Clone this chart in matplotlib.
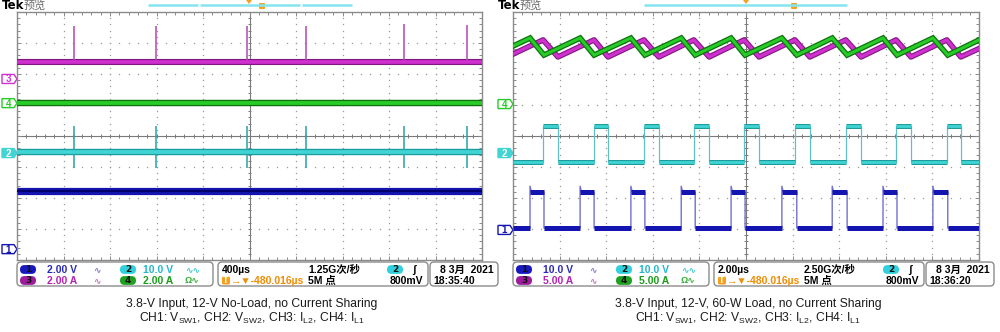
import numpy as np
import matplotlib
matplotlib.use("Agg")
import matplotlib.pyplot as plt
from matplotlib.patches import FancyBboxPatch, Polygon
from matplotlib.ticker import MultipleLocator

# ---------------- data (levels in screen divisions, times in us from left edge) ----------------
# Left capture: 400 us/div, 12-V no-load
L_TPD = 400.0
L_CH3_LEVEL = 6.39
L_CH4_LEVEL = 5.06
L_CH2_LEVEL = 3.48
L_CH1_LEVEL = 2.24
L_SPIKE_T = [490, 1196, 1978, 2486, 3329, 3871]
L_CH3_SPIKE_TOP = [7.55, 7.55, 7.55, 7.55, 7.61, 7.57]
L_CH2_SPIKE_TOP = [4.32, 4.32, 4.32, 4.32, 4.32, 4.32]
L_CH2_SPIKE_BOT = [2.97, 2.97, 2.97, 2.97, 2.97, 2.97]
L_MARKERS = {"3": 5.84, "4": 5.06, "2": 3.45, "1": 0.35}

# Right capture: 2 us/div, 60-W load
R_TPD = 2.0
R_CH1_RISE = [0.73, 2.88, 5.06, 7.22, 9.36, 11.54, 13.70, 15.88, 18.02]
R_CH1_FALL = [1.33, 3.48, 5.66, 7.82, 9.96, 12.18, 14.34, 16.48, 18.66]
R_CH2_RISE = [1.29, 3.48, 5.62, 7.76, 9.92, 12.10, 14.28, 16.44, 18.62]
R_CH2_FALL = [1.93, 4.08, 6.26, 8.42, 10.56, 12.74, 14.94, 17.08, 19.22]
R_CH1_LOW, R_CH1_HIGH, R_CH1_OVERSHOOT = 1.03, 2.19, 2.38
R_CH2_LOW, R_CH2_HIGH = 3.16, 4.32
R_CH4_PEAK, R_CH4_TROUGH = 7.16, 6.61
R_CH3_PEAK, R_CH3_TROUGH = 7.10, 6.55
R_MARKERS = {"4": 5.03, "2": 3.45, "1": 0.97}

# status-bar texts
L_STATUS = dict(ch1="2.00 V", ch3="2.00 A", ch2="10.0 V", ch4="2.00 A", tdiv="400µs",
                rate="1.25G次/秒", delay="-480.016µs", rec="5M 点", trig="800mV",
                date="8 3月  2021", time="18:35:40")
R_STATUS = dict(ch1="10.0 V", ch3="5.00 A", ch2="10.0 V", ch4="5.00 A", tdiv="2.00µs",
                rate="2.50G次/秒", delay="-480.016µs", rec="5M 点", trig="800mV",
                date="8 3月  2021", time="18:36:20")
L_TITLE = "3.8-V Input, 12-V No-Load, no Current Sharing"
R_TITLE = "3.8-V Input, 12-V, 60-W Load, no Current Sharing"
SUBTITLE = r"CH1: V$_{\mathrm{SW1}}$, CH2: V$_{\mathrm{SW2}}$, CH3: I$_{\mathrm{L2}}$, CH4: I$_{\mathrm{L1}}$"

# ---------------- style ----------------
plt.rcParams["mathtext.fontset"] = "custom"
plt.rcParams["mathtext.rm"] = "Liberation Sans"
plt.rcParams["mathtext.it"] = "Liberation Sans:italic"
plt.rcParams["font.family"] = ["Liberation Sans", "Noto Sans CJK SC", "DejaVu Sans"]
FAM = ["Liberation Sans", "Noto Sans CJK SC", "DejaVu Sans"]

C_BLUE, C_BLUE_D = "#1414b0", "#00006a"
C_CYAN, C_CYAN_D = "#40d4d4", "#1c9c9c"
C_MAG, C_MAG_D = "#d030d0", "#801880"
C_GRN, C_GRN_D = "#28cc28", "#0e700e"
C_ORANGE = "#f5a020"
TXT = {"1": "#2a2ab8", "2": "#22b8c8", "3": "#b424b4", "4": "#1c9c1c"}
BADGE = {"1": "#1818c0", "2": "#30d0dc", "3": "#9c1c9c", "4": "#20a020"}

fig = plt.figure(figsize=(10, 3.32), dpi=100)
bg = fig.add_axes([0, 0, 1, 1])
bg.set_xlim(0, 1000)
bg.set_ylim(332, 0)
bg.axis("off")

TOP, BOT = 12, 260


def px_y(d):
    return BOT - (BOT - TOP) / 8.0 * d


def graticule(ax, tpd):
    ax.set_xlim(0, 10 * tpd)
    ax.set_ylim(0, 8)
    ax.xaxis.set_major_locator(MultipleLocator(tpd))
    ax.xaxis.set_minor_locator(MultipleLocator(tpd / 5))
    ax.yaxis.set_major_locator(MultipleLocator(1))
    ax.yaxis.set_minor_locator(MultipleLocator(0.2))
    ax.tick_params(which="both", direction="in", top=True, right=True, bottom=True, left=True,
                   labelbottom=False, labelleft=False, color="#8a8a8a", width=0.7)
    ax.tick_params(which="major", length=3)
    ax.tick_params(which="minor", length=2)
    for sp in ax.spines.values():
        sp.set_color("#8a8a8a")
        sp.set_linewidth(1.0)
    ys = np.arange(0.2, 8, 0.2)
    xs = np.arange(tpd / 5, 10 * tpd, tpd / 5)
    for k in range(1, 10):
        if k != 5:
            ax.plot(np.full_like(ys, k * tpd), ys, ls="none", marker="s", ms=0.9, mew=0,
                    color="#9a9a9a", zorder=1)
    for k in range(1, 8):
        if k != 4:
            ax.plot(xs, np.full_like(xs, k), ls="none", marker="s", ms=0.9, mew=0,
                    color="#9a9a9a", zorder=1)
    ax.axhline(4, color="#7a7a7a", lw=0.8, zorder=1)
    ax.axvline(5 * tpd, color="#7a7a7a", lw=0.8, zorder=1)
    ax.vlines(xs, 4 - 0.06, 4 + 0.06, color="#7a7a7a", lw=0.7, zorder=1)
    ax.hlines(ys, 5 * tpd - 0.04 * tpd, 5 * tpd + 0.04 * tpd, color="#7a7a7a", lw=0.7, zorder=1)


def band(ax, x, y, col, dark, lw):
    ax.plot(x, y, color=dark, lw=lw, solid_capstyle="butt", zorder=3)
    ax.plot(x, y, color=col, lw=lw * 0.6, solid_capstyle="butt", zorder=3.1)


# ---------------- left panel ----------------
axL = fig.add_axes([17 / 1000, (332 - BOT) / 332, 465 / 1000, (BOT - TOP) / 332])
graticule(axL, L_TPD)
full = [0, 10 * L_TPD]
band(axL, full, [L_CH3_LEVEL] * 2, C_MAG, C_MAG_D, 4.4)
band(axL, full, [L_CH4_LEVEL] * 2, C_GRN, C_GRN_D, 4.6)
band(axL, full, [L_CH2_LEVEL] * 2, C_CYAN, C_CYAN_D, 4.6)
axL.plot(full, [L_CH1_LEVEL] * 2, color=C_BLUE, lw=5.2, solid_capstyle="butt", zorder=3)
axL.plot(full, [L_CH1_LEVEL] * 2, color=C_BLUE_D, lw=1.5, solid_capstyle="butt", zorder=3.1)
axL.vlines(L_SPIKE_T, L_CH3_LEVEL, L_CH3_SPIKE_TOP, color="#b048b0", lw=1.1, zorder=3)
axL.vlines(L_SPIKE_T, L_CH2_SPIKE_BOT, L_CH2_SPIKE_TOP, color="#2aa0a6", lw=1.1, zorder=3)

# ---------------- right panel ----------------
axR = fig.add_axes([513 / 1000, (332 - BOT) / 332, 466 / 1000, (BOT - TOP) / 332])
graticule(axR, R_TPD)


def square(rise, fall, lo, hi, over=None):
    xs, ys = [0.0], [lo]
    for r, f in zip(rise, fall):
        xs += [r, r]
        ys += [lo, over if over is not None else hi]
        if over is not None:
            xs += [r + 0.06]
            ys += [hi]
        xs += [f, f]
        ys += [hi, lo]
    xs.append(10 * R_TPD)
    ys.append(lo)
    return xs, ys


def triangle(peaks, troughs, pk, tr):
    period = peaks[1] - peaks[0]
    xs = [troughs[0] - period]
    ys = [tr]
    for p, t in zip(peaks, troughs):
        xs += [p, t]
        ys += [pk, tr]
    xs.append(peaks[-1] + period)
    ys.append(pk)
    return xs, ys


# ch2 square (cyan)
x2, y2 = square(R_CH2_RISE, R_CH2_FALL, R_CH2_LOW, R_CH2_HIGH)
axR.plot(x2, y2, color="#60c0c8", lw=0.9, zorder=3)
axR.hlines([R_CH2_HIGH] * len(R_CH2_RISE), R_CH2_RISE, R_CH2_FALL, color=C_CYAN_D, lw=3.6, zorder=3.1)
axR.hlines([R_CH2_HIGH] * len(R_CH2_RISE), R_CH2_RISE, R_CH2_FALL, color=C_CYAN, lw=2.0, zorder=3.2)
lo2_start = [0.0] + list(R_CH2_FALL)
lo2_end = list(R_CH2_RISE) + [10 * R_TPD]
axR.hlines([R_CH2_LOW] * len(lo2_start), lo2_start, lo2_end, color=C_CYAN_D, lw=3.6, zorder=3.1)
axR.hlines([R_CH2_LOW] * len(lo2_start), lo2_start, lo2_end, color=C_CYAN, lw=2.0, zorder=3.2)

# ch1 square (blue)
x1, y1 = square(R_CH1_RISE, R_CH1_FALL, R_CH1_LOW, R_CH1_HIGH, R_CH1_OVERSHOOT)
axR.plot(x1, y1, color="#7070d0", lw=1.0, zorder=3)
axR.hlines([R_CH1_HIGH] * len(R_CH1_RISE), R_CH1_RISE, R_CH1_FALL, color=C_BLUE, lw=3.6, zorder=3.1)
lo1_start = [0.0] + list(R_CH1_FALL)
lo1_end = list(R_CH1_RISE) + [10 * R_TPD]
axR.hlines([R_CH1_LOW] * len(lo1_start), lo1_start, lo1_end, color=C_BLUE, lw=3.6, zorder=3.1)

# inductor currents (magenta ch3, green ch4)
x3, y3 = triangle(R_CH2_RISE, R_CH2_FALL, R_CH3_PEAK, R_CH3_TROUGH)
band(axR, x3, y3, C_MAG, C_MAG_D, 4.0)
x4, y4 = triangle(R_CH1_RISE, R_CH1_FALL, R_CH4_PEAK, R_CH4_TROUGH)
axR.plot(x4, y4, color=C_GRN_D, lw=4.0, zorder=3.3, solid_joinstyle="miter")
axR.plot(x4, y4, color=C_GRN, lw=2.2, zorder=3.4, solid_joinstyle="miter")

# ---------------- decorations in pixel space ----------------
MARK_STYLE = {"1": ("white", C_BLUE, C_BLUE), "2": (C_CYAN, C_CYAN, "white"),
              "3": ("white", C_MAG, C_MAG), "4": ("white", C_GRN, C_GRN)}


def ch_marker(x0, d, ch):
    y = px_y(d)
    fc, ec, tc = MARK_STYLE[ch]
    poly = Polygon([(x0, y - 4.5), (x0 + 12, y - 4.5), (x0 + 15, y), (x0 + 12, y + 4.5), (x0, y + 4.5)],
                   closed=True, fc=fc, ec=ec, lw=1.0, zorder=5)
    bg.add_patch(poly)
    bg.text(x0 + 6.5, y + 0.5, ch, ha="center", va="center", fontsize=7, color=tc,
            fontweight="bold", family=FAM, zorder=6)


for ch, d in L_MARKERS.items():
    ch_marker(2, d, ch)
for ch, d in R_MARKERS.items():
    ch_marker(498, d, ch)

# header
for dx in (0, 496):
    bg.text(2 + dx, 5.5, "Tek", fontsize=8.5, fontweight="bold", color="black", va="center",
            family=["DejaVu Sans"])
    bg.text(24 + dx, 5.5, "预览", fontsize=8, color="#6a6a6a", va="center",
            family=["Noto Sans CJK SC"])
for a, b in [(148, 198), (200, 300), (302, 352), (644, 847)]:
    bg.plot([a, b], [5, 5], color="#86e4ee", lw=1.8, solid_capstyle="butt")
for x in (249, 746):
    bg.add_patch(Polygon([(x - 3, 0), (x + 3, 0), (x, 4)], fc=C_ORANGE, ec="none"))
    bg.add_patch(Polygon([(x - 3, 12), (x + 3, 12), (x, 16)], fc=C_ORANGE, ec="none", zorder=6))
for x in (262, 794):
    bg.add_patch(FancyBboxPatch((x - 3, 3), 6, 6, boxstyle="round,pad=0,rounding_size=1",
                                fc=C_ORANGE, ec="none"))

# trigger T markers inside graticules
bg.add_patch(FancyBboxPatch((300, 15), 12, 10, boxstyle="round,pad=0,rounding_size=2.5",
                            fc=C_ORANGE, ec="none", zorder=6))
bg.add_patch(Polygon([(303, 24.5), (309, 24.5), (306, 28)], fc=C_ORANGE, ec="none", zorder=6))
bg.text(306, 20.5, "T", ha="center", va="center", fontsize=6.5, color="white", fontweight="bold",
        family=["DejaVu Sans"], zorder=7)
bg.add_patch(FancyBboxPatch((965, 15), 11, 10, boxstyle="round,pad=0,rounding_size=2.5",
                            fc=C_ORANGE, ec="none", zorder=6))
bg.add_patch(Polygon([(975.5, 16.5), (980, 20), (975.5, 23.5)], fc=C_ORANGE, ec="none", zorder=6))
bg.text(970.5, 20.5, "T", ha="center", va="center", fontsize=6.5, color="white", fontweight="bold",
        family=["DejaVu Sans"], zorder=7)
# ch2 trigger level arrow (right panel)
bg.add_patch(Polygon([(977, 149), (977, 155), (973, 152)], fc=C_CYAN, ec="none", zorder=6))


def rbox(x0, x1, y0, y1):
    bg.add_patch(FancyBboxPatch((x0, y0), x1 - x0, y1 - y0, boxstyle="round,pad=0,rounding_size=4",
                                fc="white", ec="#8c8c8c", lw=1.0))


def badge(x, y, ch):
    bg.add_patch(FancyBboxPatch((x, y - 4.4), 16, 8.8, boxstyle="round,pad=0,rounding_size=4.4",
                                fc=BADGE[ch], ec="none", zorder=3))
    bg.text(x + 8, y + 0.4, ch, ha="center", va="center", fontsize=6.5, color="#101010",
            fontweight="bold", family=["DejaVu Sans"], zorder=4)


def stext(x, y, s, color="black", ha="left", size=7.5):
    bg.text(x, y + 0.4, s, ha=ha, va="center", fontsize=size, color=color, fontweight="bold",
            family=FAM, zorder=4)


R1, R2 = 269.5, 280.5
for dx, st in ((0, L_STATUS), (496, R_STATUS)):
    rbox(17 + dx, 213 + dx, 262, 286)
    rbox(218 + dx, 428 + dx, 262, 286)
    rbox(430 + dx, 498 + dx, 262, 286)
    badge(20 + dx, R1, "1")
    stext(47 + dx, R1, st["ch1"], TXT["1"])
    stext(93 + dx, R1, "∿", "#7a7ad8", size=6.5)
    badge(120 + dx, R1, "2")
    stext(143 + dx, R1, st["ch2"], TXT["2"])
    stext(185 + dx, R1, "∿∿", "#40c8d8", size=6.5)
    badge(20 + dx, R2, "3")
    stext(47 + dx, R2, st["ch3"], TXT["3"])
    stext(93 + dx, R2, "∿", "#c070c0", size=6.5)
    badge(120 + dx, R2, "4")
    stext(143 + dx, R2, st["ch4"], TXT["4"])
    stext(185 + dx, R2, "Ω∿", "#30b030", size=6.5)
    stext(222 + dx, R1, st["tdiv"])
    stext(308 + dx, R1, st["rate"])
    badge(387 + dx, R1, "2")
    stext(412 + dx, R1, "ʃ", size=7.5)
    bg.add_patch(FancyBboxPatch((222 + dx, R2 - 4), 8, 8, boxstyle="round,pad=0,rounding_size=1.5",
                                fc=C_ORANGE, ec="none", zorder=3))
    bg.text(226 + dx, R2 + 0.4, "T", ha="center", va="center", fontsize=5.5, color="white",
            fontweight="bold", family=["DejaVu Sans"], zorder=4)
    stext(231 + dx, R2, "→▼" + st["delay"], "#f08c00")
    stext(308 + dx, R2, st["rec"])
    stext(423 + dx, R2, st["trig"], ha="right")
    stext(440 + dx, R1, st["date"])
    stext(433 + dx, R2, st["time"])

# captions
for xc, title in ((252, L_TITLE), (748, R_TITLE)):
    bg.text(xc, 304, title, ha="center", va="center", fontsize=8.7, color="#1a1a1a", family=FAM)
    bg.text(xc, 318.5, SUBTITLE, ha="center", va="center", fontsize=8.7, color="#1a1a1a", family=FAM)

fig.savefig("out.png", dpi=100)
